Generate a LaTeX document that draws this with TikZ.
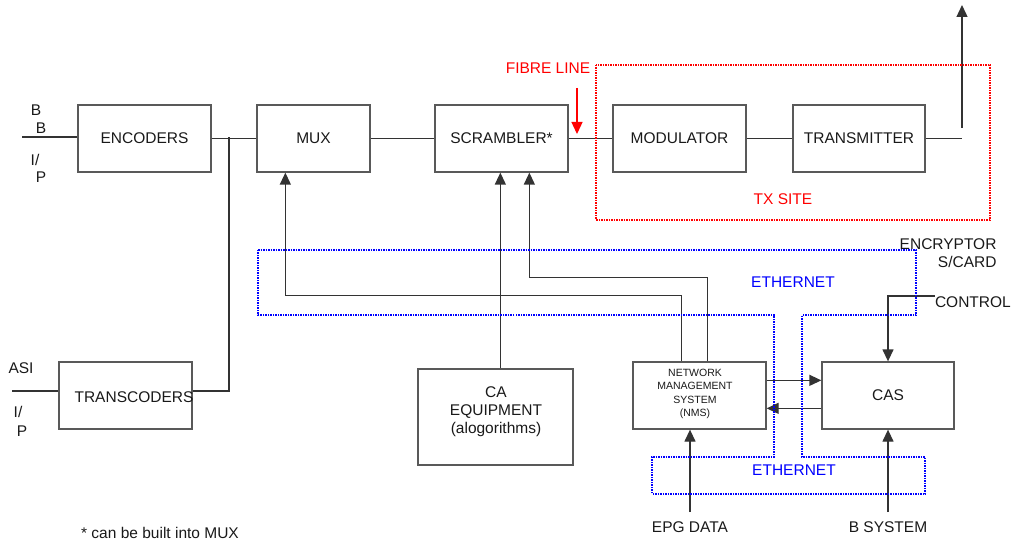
\documentclass[tikz,border=0pt]{standalone}
\usepackage{fontspec}
\setmainfont{Liberation Sans}
\usetikzlibrary{arrows.meta}
\begin{document}
\begin{tikzpicture}[x=1pt,y=-1pt,
  every node/.style={font=\fontsize{15.5}{18}\selectfont, text=black!90},
  box/.style={draw=black!65, line width=1.3pt, rectangle, inner sep=0pt},
  wire/.style={draw=black!80, line width=1.3pt},
  arr/.style={wire, -{Triangle[length=12pt,width=11pt]}},
  redarr/.style={draw=red, line width=1.3pt, -{Triangle[length=12pt,width=11pt]}},
  reddot/.style={draw=red, line width=1.3pt, dash pattern=on 1.5pt off 1pt},
  bluedot/.style={draw=blue, line width=1.3pt, dash pattern=on 1.5pt off 1pt},
  small/.style={font=\fontsize{10.5}{13.3}\selectfont, align=center}]
\useasboundingbox (0,0) rectangle (1012,545);

% boxes
\node[box, minimum width=133pt, minimum height=67pt] (enc) at (144.5,138.5) {ENCODERS};
\node[box, minimum width=113pt, minimum height=67pt] (mux) at (313.5,138.5) {MUX};
\node[box, minimum width=133pt, minimum height=67pt] (scr) at (501.5,138.5) {SCRAMBLER*};
\node[box, minimum width=133pt, minimum height=67pt] (mod) at (679.5,138.5) {MODULATOR};
\node[box, minimum width=132pt, minimum height=67pt] (tx) at (859,138.5) {TRANSMITTER};
\node[box, minimum width=133pt, minimum height=67pt] (trans) at (125.5,395.5) {};
\node (transtxt) at (134,397) {TRANSCODERS};
\node[box, minimum width=155pt, minimum height=96pt] (ca) at (495.5,417) {};
\node[align=center] (catxt) at (496,412) {CA\\EQUIPMENT\\(alogorithms)};
\node[box, minimum width=133pt, minimum height=67pt] (nms) at (699.5,395.5) {};
\node[small] (nmstxt) at (695,394) {NETWORK\\MANAGEMENT\\SYSTEM\\(NMS)};
\node[box, minimum width=132pt, minimum height=67pt] (cas) at (888,395.5) {CAS};

% texts
\node (b1) at (36,110) {B};
\node (b2) at (41,128) {B};
\node (i1) at (35,160) {I/};
\node (p1) at (41,177) {P};
\node (asi) at (21,368) {ASI};
\node (i2) at (18,412) {I/};
\node (p2) at (22,431) {P};
\node (note) at (160,533) {* can be built into MUX};
\node[text=red] (fibre) at (548,68) {FIBRE LINE};
\node[text=red] (txsite) at (783,199) {TX SITE};
\node[text=blue] (eth1) at (793,282) {ETHERNET};
\node[text=blue] (eth2) at (794,470) {ETHERNET};
\node[align=right, anchor=east] (encr) at (1000,253) {ENCRYPTOR\\S/CARD};
\node[anchor=east, inner sep=0pt] (ctrl) at (1011,302) {CONTROL};
\node (epg) at (690,527) {EPG DATA};
\node (bsys) at (888,527) {B SYSTEM};

% coordinates
\coordinate (bbin) at (22,137);
\coordinate (asiin) at (12,391);
\coordinate (jn) at (229,137);
\coordinate (outA) at (962,128);
\coordinate (outB) at (962,5);
\coordinate (fa) at (577,88);
\coordinate (ctl) at (935,296);
\coordinate (epgs) at (690,512);
\coordinate (bsyss) at (888,512);

% main chain
\draw[wire] (bbin) -- (bbin -| enc.west);
\draw[wire] (enc.east) -- (mux.west);
\draw[wire] (mux.east) -- (scr.west);
\draw[wire] (scr.east) -- (mod.west);
\draw[wire] (mod.east) -- (tx.east -| tx.west);
\draw[wire] (tx.east) -- (outA |- tx.east);
\draw[arr] (outA) -- (outB);
\draw[wire] (asiin) -- (asiin -| trans.west);
\draw[wire] (trans.east |- asiin) -| (jn);

% control connectors
\draw[arr] ([xshift=49pt]nms.north west) -- ++(0,-66) -| ([xshift=29pt]mux.south west);
\draw[arr] ([xshift=75pt]nms.north west) -- ++(0,-84) -| ([xshift=95pt]scr.south west);
\draw[arr] ([xshift=83pt]ca.north west) -- ([xshift=66pt]scr.south west);
\draw[arr] ([yshift=-19pt]nms.north east) -- ([yshift=-19pt]cas.north west);
\draw[arr] ([yshift=-47pt]cas.north west) -- ([yshift=-47pt]nms.north east);
\draw[arr] (ctl) -| (cas.north);
\draw[arr] (epgs) -- (nms.south -| epgs);
\draw[arr] (bsyss) -- (cas.south -| bsyss);

% red fibre arrow and TX site
\draw[redarr] (fa) -- ++(0,46);
\draw[reddot] (596,65) rectangle (990,220);

% ethernet outline
\draw[bluedot] (258,250) -- (916,250) -- (916,315) -- (802,315) -- (802,457) -- (925,457) -- (925,494) -- (652,494) -- (652,457) -- (774,457) -- (774,315) -- (258,315) -- cycle;
\end{tikzpicture}
\end{document}
